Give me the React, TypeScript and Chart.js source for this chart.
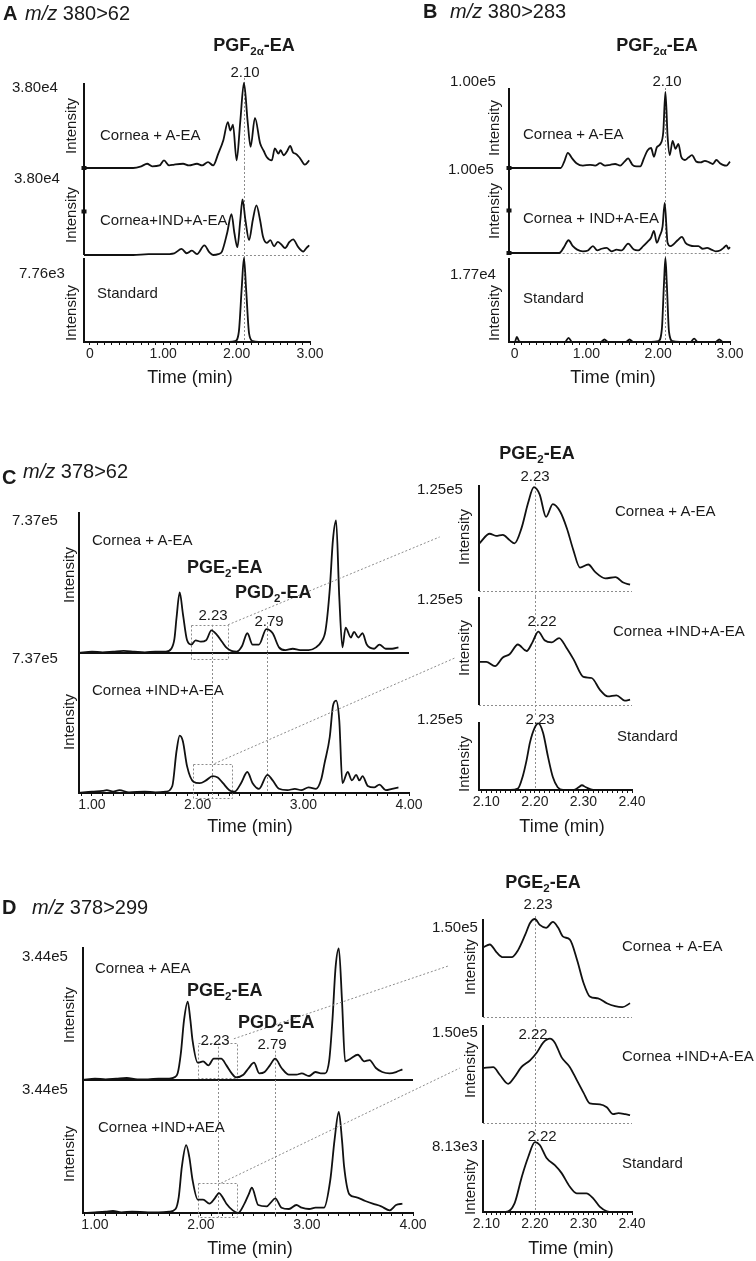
import React, { useEffect, useRef } from "react";
import { Chart, registerables } from "chart.js";

Chart.register(...registerables);

const FONT = "'Liberation Sans', Arial, Helvetica, sans-serif";

// ---------------- DATA (relative intensity, % of panel maximum) ----------------
// Panel A  m/z 380>62
const A1_TIME = [-0.08, 0, 0.5, 0.59, 0.7, 0.78, 0.85, 0.95, 1.01, 1.08, 1.15, 1.27, 1.35, 1.46, 1.53, 1.61, 1.68, 1.75, 1.82, 1.88, 1.915, 1.95, 2.0, 2.05, 2.10, 2.15, 2.19, 2.25, 2.32, 2.37, 2.41, 2.48, 2.52, 2.57, 2.60, 2.64, 2.69, 2.73, 2.77, 2.80, 2.86, 2.93, 2.99];
const A1_INT = [0, 0, 0, 0, 2, 5, 2, 3, 9, 3, 4, 5, 3, 5, 3, 7, 3, 17, 33, 54, 44, 51, 9, 55, 100, 55, 25, 59, 29, 20, 13, 9, 23, 17, 21, 15, 20, 26, 18, 17, 12, 4, 9];
const A2_TIME = [-0.08, 0, 0.59, 0.8, 1.0, 1.15, 1.25, 1.32, 1.39, 1.46, 1.56, 1.63, 1.68, 1.75, 1.80, 1.87, 1.93, 1.97, 2.01, 2.05, 2.08, 2.12, 2.17, 2.22, 2.27, 2.32, 2.36, 2.41, 2.46, 2.51, 2.56, 2.61, 2.66, 2.72, 2.77, 2.84, 2.91, 2.95, 2.99];
const A2_INT = [0, 0, 0, 1, 1, 2, 7, 2, 5, 1, 11, 3, 0, 1, 4, 25, 47, 25, 9, 40, 64, 40, 17, 40, 57, 40, 21, 14, 17, 10, 15, 12, 8, 15, 18, 9, 4, 8, 11];
const A3_TIME = [-0.08, 0, 1.9, 1.98, 2.03, 2.07, 2.10, 2.13, 2.17, 2.22, 2.3, 3.0];
const A3_INT = [0, 0, 0, 1, 12, 65, 100, 62, 10, 1, 0, 0];

// Panel B  m/z 380>283
const B1_TIME = [-0.08, 0, 0.64, 0.69, 0.74, 0.80, 0.86, 0.95, 1.05, 1.12, 1.19, 1.26, 1.33, 1.40, 1.47, 1.53, 1.58, 1.64, 1.70, 1.75, 1.80, 1.85, 1.90, 1.94, 1.98, 2.03, 2.07, 2.10, 2.13, 2.16, 2.20, 2.24, 2.28, 2.32, 2.37, 2.42, 2.47, 2.53, 2.59, 2.65, 2.71, 2.76, 2.81, 2.86, 2.90, 2.95, 3.0];
const B1_INT = [0, 0, 0, 8, 19, 12, 6, 3, 4, 3, 6, 3, 4, 5, 3, 8, 12, 4, 2, 2, 12, 22, 25, 14, 26, 30, 45, 95, 40, 16, 34, 24, 30, 14, 10, 13, 16, 8, 7, 9, 7, 5, 10, 6, 4, 3, 8];
const B2_TIME = [-0.08, 0, 0.62, 0.68, 0.75, 0.81, 0.87, 0.95, 1.02, 1.09, 1.15, 1.21, 1.28, 1.35, 1.42, 1.49, 1.58, 1.66, 1.72, 1.79, 1.85, 1.90, 1.94, 1.98, 2.02, 2.06, 2.09, 2.13, 2.17, 2.21, 2.27, 2.33, 2.38, 2.44, 2.50, 2.56, 2.62, 2.68, 2.74, 2.80, 2.86, 2.91, 2.95, 2.98, 3.0];
const B2_INT = [0, 0, 0, 6, 15, 8, 4, 2, 3, 8, 3, 5, 6, 2, 4, 3, 11, 4, 3, 8, 13, 18, 26, 12, 20, 31, 59, 12, 8, 10, 15, 19, 12, 9, 8, 8, 5, 6, 4, 2, 3, 6, 9, 5, 7];
const B3_TIME = [-0.08, 0, 0.03, 0.06, 0.1, 0.7, 0.75, 0.8, 1.2, 1.25, 1.3, 1.55, 1.6, 1.65, 1.9, 2.0, 2.05, 2.08, 2.10, 2.12, 2.15, 2.2, 2.3, 2.45, 2.5, 2.55, 2.8, 2.85, 2.9, 3.0];
const B3_INT = [0, 0, 6, 1, 0, 0, 5, 0, 0, 3, 0, 0, 3, 0, 0, 1, 15, 70, 100, 68, 12, 1, 0, 0, 4, 0, 0, 3, 0, 0];

// Panel C  m/z 378>62 (full run)
const C1_TIME = [0.877, 1.0, 1.1, 1.2, 1.3, 1.4, 1.5, 1.6, 1.7, 1.75, 1.78, 1.80, 1.83, 1.86, 1.90, 1.94, 1.98, 2.03, 2.08, 2.13, 2.18, 2.23, 2.27, 2.32, 2.37, 2.42, 2.47, 2.52, 2.58, 2.65, 2.71, 2.77, 2.83, 2.90, 2.97, 3.05, 3.12, 3.17, 3.21, 3.25, 3.28, 3.31, 3.34, 3.37, 3.40, 3.45, 3.48, 3.52, 3.56, 3.60, 3.67, 3.72, 3.78, 3.84, 3.90];
const C1_INT = [0, 1, 0.5, 1, 1.5, 1, 0.5, 1, 1, 3, 10, 25, 43, 28, 9, 6, 9, 8, 9, 16, 13, 8, 4, 1.5, 1, 5, 14, 6, 6, 17, 14, 4, 2, 3, 2, 2, 4, 8, 16, 45, 80, 94, 40, 4, 18, 11, 15, 11, 14, 6, 3, 6, 3, 3, 4];
const C2_TIME = [0.877, 1.0, 1.1, 1.14, 1.2, 1.26, 1.35, 1.5, 1.6, 1.7, 1.76, 1.80, 1.83, 1.86, 1.90, 1.96, 2.02, 2.08, 2.14, 2.19, 2.24, 2.30, 2.35, 2.41, 2.47, 2.52, 2.58, 2.66, 2.71, 2.77, 2.85, 2.92, 2.98, 3.05, 3.12, 3.17, 3.20, 3.25, 3.28, 3.31, 3.34, 3.37, 3.42, 3.46, 3.50, 3.53, 3.56, 3.61, 3.67, 3.72, 3.78, 3.84, 3.90];
const C2_INT = [0, 1, 1.5, 2, 1, 2, 0.5, 1, 0.5, 1, 5, 30, 41, 37, 19, 8, 7, 9, 12, 11, 7, 2, 1, 7, 15, 7, 3, 13, 9, 3, 2, 3, 2, 4, 3, 10, 21, 40, 62, 66, 52, 7, 15, 9, 13, 9, 12, 5, 4, 6, 2, 3, 4];
// Panel C zoom (PGE2-EA)
const CZ1_TIME = [2.086, 2.107, 2.12, 2.134, 2.148, 2.158, 2.173, 2.186, 2.198, 2.21, 2.223, 2.237, 2.252, 2.266, 2.279, 2.293, 2.31, 2.324, 2.345, 2.366, 2.382, 2.396];
const CZ1_INT = [45, 54, 52, 53, 48, 45, 60, 83, 98, 91, 70, 82, 75, 59, 39, 22, 25, 18, 12, 13, 8, 6];
const CZ2_TIME = [2.086, 2.10, 2.118, 2.134, 2.148, 2.165, 2.183, 2.195, 2.207, 2.22, 2.235, 2.25, 2.265, 2.28, 2.30, 2.317, 2.334, 2.35, 2.368, 2.385, 2.396];
const CZ2_INT = [40, 40, 36, 44, 47, 56, 50, 58, 68, 60, 58, 62, 53, 42, 26, 25, 14, 8, 9, 4, 5];
const CZ3_TIME = [2.086, 2.15, 2.165, 2.175, 2.183, 2.19, 2.2, 2.207, 2.217, 2.227, 2.237, 2.247, 2.258, 2.28, 2.29, 2.297, 2.305, 2.32, 2.396];
const CZ3_INT = [0, 0, 2, 20, 44, 70, 92, 98, 84, 49, 19, 4, 0, 0, 4, 7, 4, 0, 0];

// Panel D  m/z 378>299 (full run)
const D1_TIME = [0.887, 1.0, 1.1, 1.2, 1.3, 1.4, 1.5, 1.6, 1.7, 1.75, 1.78, 1.81, 1.84, 1.875, 1.90, 1.92, 1.97, 2.02, 2.07, 2.12, 2.19, 2.24, 2.29, 2.33, 2.40, 2.45, 2.50, 2.55, 2.60, 2.65, 2.70, 2.76, 2.83, 2.90, 2.95, 3.02, 3.08, 3.13, 3.17, 3.21, 3.24, 3.27, 3.30, 3.33, 3.36, 3.41, 3.48, 3.54, 3.59, 3.65, 3.71, 3.78, 3.84, 3.90];
const D1_INT = [0, 1, 0.5, 1, 1.5, 0.5, 0.5, 1, 1, 2, 5, 20, 45, 59, 45, 30, 13, 14, 11, 16, 16, 11, 5, 2, 4, 9, 13, 5, 6, 11, 16, 9, 4, 4, 5, 3, 6, 5, 5, 15, 45, 85, 99, 60, 14, 16, 19, 14, 15, 9, 6, 5, 6, 8];
const D2_TIME = [0.887, 1.0, 1.1, 1.17, 1.25, 1.35, 1.5, 1.6, 1.7, 1.76, 1.79, 1.82, 1.86, 1.89, 1.92, 1.97, 2.02, 2.08, 2.13, 2.17, 2.21, 2.24, 2.30, 2.35, 2.41, 2.45, 2.48, 2.54, 2.62, 2.66, 2.70, 2.76, 2.83, 2.90, 2.95, 3.02, 3.08, 3.16, 3.22, 3.26, 3.30, 3.33, 3.35, 3.40, 3.46, 3.55, 3.62, 3.70, 3.78, 3.84, 3.90];
const D2_INT = [0, 0.5, 1, 1.5, 0.5, 1, 0.5, 0.5, 1, 3, 12, 35, 51, 42, 25, 10, 10, 7, 11, 15, 11, 7, 2, 0, 7, 14, 19, 6, 5, 8, 11, 4, 3, 6, 4, 3, 4, 4, 25, 55, 76, 55, 35, 14, 12, 9, 7, 5, 2, 6, 7];
// Panel D zoom (PGE2-EA)
const DZ1_TIME = [2.093, 2.107, 2.121, 2.134, 2.152, 2.165, 2.18, 2.19, 2.20, 2.21, 2.223, 2.237, 2.248, 2.258, 2.272, 2.287, 2.30, 2.313, 2.33, 2.348, 2.365, 2.38, 2.396];
const DZ1_INT = [71, 74, 66, 61, 61, 68, 84, 96, 100, 94, 91, 97, 91, 82, 79, 58, 35, 21, 19, 14, 11, 10, 14];
const DZ2_TIME = [2.093, 2.114, 2.128, 2.145, 2.158, 2.172, 2.19, 2.204, 2.217, 2.231, 2.241, 2.255, 2.272, 2.286, 2.30, 2.313, 2.334, 2.348, 2.361, 2.372, 2.386, 2.396];
const DZ2_INT = [56, 57, 49, 40, 47, 57, 64, 72, 82, 86, 82, 67, 57, 44, 31, 20, 19, 16, 9, 10, 9, 8];
const DZ3_TIME = [2.093, 2.14, 2.158, 2.173, 2.186, 2.20, 2.21, 2.224, 2.241, 2.255, 2.272, 2.286, 2.306, 2.32, 2.334, 2.348, 2.36, 2.396];
const DZ3_INT = [0, 0, 12, 49, 76, 97, 93, 75, 65, 54, 35, 26, 26, 19, 7, 1, 0, 0];

// Tick labels
const AB_TICK_VALUES = [0, 1, 2, 3];
const AB_TICK_LABELS = ["0", "1.00", "2.00", "3.00"];
const FULL_TICK_VALUES = [1, 2, 3, 4];
const FULL_TICK_LABELS = ["1.00", "2.00", "3.00", "4.00"];
const ZOOM_TICK_VALUES = [2.1, 2.2, 2.3, 2.4];
const ZOOM_TICK_LABELS = ["2.10", "2.20", "2.30", "2.40"];

// ---------------- LAYOUT ----------------
type AxisSpec = { step: number; major: number[]; labels: string[] };
type VLine = { x: number; from: number; to: number };
type Box = { x1: number; x2: number; y1: number; y2: number };
type Trace = {
  key: string;
  t: number[];
  v: number[];
  L: number; T: number; R: number; B: number;
  xmin: number; xmax: number;
  axis?: AxisSpec;
  vlines?: VLine[];
  boxes?: Box[];
  dotBase?: [number, number];
  solidBase?: boolean;
  yMarks?: number[];
};

const AB_AXIS: AxisSpec = { step: 0.1, major: AB_TICK_VALUES, labels: AB_TICK_LABELS };
const FULL_AXIS: AxisSpec = { step: 0.1, major: FULL_TICK_VALUES, labels: FULL_TICK_LABELS };
const ZOOM_AXIS: AxisSpec = { step: 0.01, major: ZOOM_TICK_VALUES, labels: ZOOM_TICK_LABELS };

const TRACES: Trace[] = [
  // A
  { key: "A1", t: A1_TIME, v: A1_INT, L: 84, T: 83, R: 310, B: 168, xmin: -0.08, xmax: 3.0, vlines: [{ x: 2.1, from: 106, to: 0 }], yMarks: [0] },
  { key: "A2", t: A2_TIME, v: A2_INT, L: 84, T: 168, R: 310, B: 255, xmin: -0.08, xmax: 3.0, vlines: [{ x: 2.1, from: 100, to: -4 }], dotBase: [1.8, 3.0], yMarks: [50] },
  { key: "A3", t: A3_TIME, v: A3_INT, L: 84, T: 258, R: 310, B: 342, xmin: -0.08, xmax: 3.0, vlines: [{ x: 2.1, from: 100, to: 0 }], axis: AB_AXIS },
  // B
  { key: "B1", t: B1_TIME, v: B1_INT, L: 509, T: 88, R: 730, B: 168, xmin: -0.08, xmax: 3.0, vlines: [{ x: 2.1, from: 100, to: 0 }], yMarks: [0] },
  { key: "B2", t: B2_TIME, v: B2_INT, L: 509, T: 168, R: 730, B: 253, xmin: -0.08, xmax: 3.0, vlines: [{ x: 2.1, from: 100, to: -6 }], dotBase: [0.39, 3.0], yMarks: [50, 0] },
  { key: "B3", t: B3_TIME, v: B3_INT, L: 509, T: 258, R: 730, B: 342, xmin: -0.08, xmax: 3.0, vlines: [{ x: 2.1, from: 100, to: 0 }], axis: AB_AXIS },
  // C full
  { key: "C1", t: C1_TIME, v: C1_INT, L: 79, T: 512, R: 409, B: 653, xmin: 0.877, xmax: 4.0, solidBase: true,
    vlines: [{ x: 2.14, from: 20, to: 0 }, { x: 2.66, from: 22, to: 0 }], boxes: [{ x1: 1.937, x2: 2.287, y1: -4, y2: 20 }] },
  { key: "C2", t: C2_TIME, v: C2_INT, L: 79, T: 653, R: 409, B: 793, xmin: 0.877, xmax: 4.0, axis: FULL_AXIS,
    vlines: [{ x: 2.14, from: 100, to: -3.6 }, { x: 2.66, from: 100, to: 0 }], boxes: [{ x1: 1.955, x2: 2.325, y1: -3.6, y2: 21 }] },
  // C zoom
  { key: "CZ1", t: CZ1_TIME, v: CZ1_INT, L: 479, T: 485, R: 632, B: 591, xmin: 2.085, xmax: 2.4, dotBase: [2.085, 2.4], vlines: [{ x: 2.2, from: 102, to: -6 }] },
  { key: "CZ2", t: CZ2_TIME, v: CZ2_INT, L: 479, T: 597, R: 632, B: 705, xmin: 2.085, xmax: 2.4, dotBase: [2.085, 2.4], vlines: [{ x: 2.2, from: 100, to: -16 }] },
  { key: "CZ3", t: CZ3_TIME, v: CZ3_INT, L: 479, T: 722, R: 632, B: 790, xmin: 2.085, xmax: 2.4, axis: ZOOM_AXIS, vlines: [{ x: 2.2, from: 100, to: 0 }] },
  // D full
  { key: "D1", t: D1_TIME, v: D1_INT, L: 83, T: 947, R: 413, B: 1080, xmin: 0.887, xmax: 4.0, solidBase: true,
    vlines: [{ x: 2.16, from: 28, to: 0 }, { x: 2.695, from: 22, to: 0 }], boxes: [{ x1: 1.972, x2: 2.34, y1: 1.5, y2: 28 }] },
  { key: "D2", t: D2_TIME, v: D2_INT, L: 83, T: 1080, R: 413, B: 1213, xmin: 0.887, xmax: 4.0, axis: FULL_AXIS,
    vlines: [{ x: 2.16, from: 100, to: -3 }, { x: 2.695, from: 100, to: -3 }], boxes: [{ x1: 1.972, x2: 2.34, y1: -3, y2: 22.5 }] },
  // D zoom
  { key: "DZ1", t: DZ1_TIME, v: DZ1_INT, L: 483, T: 919, R: 632, B: 1017, xmin: 2.093, xmax: 2.4, dotBase: [2.093, 2.4], vlines: [{ x: 2.2, from: 103, to: -8 }] },
  { key: "DZ2", t: DZ2_TIME, v: DZ2_INT, L: 483, T: 1025, R: 632, B: 1123, xmin: 2.093, xmax: 2.4, dotBase: [2.093, 2.4], vlines: [{ x: 2.2, from: 100, to: -17 }] },
  { key: "DZ3", t: DZ3_TIME, v: DZ3_INT, L: 483, T: 1140, R: 632, B: 1212, xmin: 2.093, xmax: 2.4, axis: ZOOM_AXIS, vlines: [{ x: 2.2, from: 100, to: 0 }] },
];

const CONNECTORS = [
  { from: "C1", fx: 2.287, fy: 20, to: "CZ1", tx: 2.004, ty: 51 },
  { from: "C2", fx: 2.16, fy: 21, to: "CZ2", tx: 2.035, ty: 43.5 },
  { from: "D1", fx: 2.31, fy: 31, to: "DZ1", tx: 2.021, ty: 52 },
  { from: "D2", fx: 2.19, fy: 22.5, to: "DZ2", tx: 2.045, ty: 56 },
];

const PADX = 34;
const PADY = 12;
const AX_H = 20;
const DOT = "#8c8c8c";

function decorPlugin(tr: Trace) {
  return {
    id: "decor_" + tr.key,
    beforeDatasetsDraw(chart: any) {
      const { ctx, scales } = chart;
      const x = scales.x;
      const y = scales.y;
      ctx.save();
      ctx.strokeStyle = DOT;
      ctx.lineWidth = 1;
      ctx.setLineDash([2, 2]);
      for (const vl of tr.vlines || []) {
        const px = Math.round(x.getPixelForValue(vl.x)) + 0.5;
        ctx.beginPath();
        ctx.moveTo(px, y.getPixelForValue(vl.from));
        ctx.lineTo(px, y.getPixelForValue(vl.to));
        ctx.stroke();
      }
      for (const b of tr.boxes || []) {
        const x1 = Math.round(x.getPixelForValue(b.x1)) + 0.5;
        const x2 = Math.round(x.getPixelForValue(b.x2)) + 0.5;
        const y1 = Math.round(y.getPixelForValue(b.y1)) + 0.5;
        const y2 = Math.round(y.getPixelForValue(b.y2)) + 0.5;
        ctx.strokeRect(x1, y2, x2 - x1, y1 - y2);
      }
      if (tr.dotBase) {
        const py = Math.round(y.getPixelForValue(0)) + 0.5;
        ctx.beginPath();
        ctx.moveTo(x.getPixelForValue(tr.dotBase[0]), py);
        ctx.lineTo(x.getPixelForValue(tr.dotBase[1]), py);
        ctx.stroke();
      }
      ctx.restore();
    },
    afterDatasetsDraw(chart: any) {
      const { ctx, chartArea: a, scales } = chart;
      ctx.save();
      ctx.strokeStyle = "#111";
      ctx.lineWidth = 2;
      ctx.beginPath();
      ctx.moveTo(a.left, a.top);
      ctx.lineTo(a.left, a.bottom);
      ctx.stroke();
      if (tr.solidBase) {
        ctx.beginPath();
        ctx.moveTo(a.left, a.bottom);
        ctx.lineTo(a.right, a.bottom);
        ctx.stroke();
      }
      ctx.fillStyle = "#111";
      for (const m of tr.yMarks || []) {
        const py = scales.y.getPixelForValue(m);
        ctx.fillRect(a.left - 2.5, py - 2, 5, 4);
      }
      ctx.restore();
    },
  };
}

function buildConfig(tr: Trace): any {
  const ax = tr.axis;
  const xScale: any = ax
    ? {
        type: "linear",
        min: tr.xmin,
        max: tr.xmax,
        position: "bottom",
        border: { display: true, color: "#111", width: 2 },
        grid: { display: true, drawOnChartArea: false, drawTicks: true, tickLength: 3, color: "#111", lineWidth: 1 },
        ticks: {
          stepSize: ax.step,
          includeBounds: false,
          autoSkip: false,
          maxRotation: 0,
          minRotation: 0,
          padding: 1,
          color: "#222",
          font: { family: FONT, size: 14 },
          callback: (val: number) => {
            const i = ax.major.findIndex((m) => Math.abs(m - val) < ax.step / 3);
            return i >= 0 ? ax.labels[i] : "";
          },
        },
        title: { display: false },
        afterFit: (s: any) => {
          s.height = AX_H;
          s.paddingLeft = 0;
          s.paddingRight = 0;
        },
      }
    : { type: "linear", display: false, min: tr.xmin, max: tr.xmax };
  return {
    type: "line",
    data: {
      datasets: [
        {
          data: tr.t.map((x, i) => ({ x, y: tr.v[i] })),
          borderColor: "#111",
          borderWidth: 1.8,
          pointRadius: 0,
          fill: false,
          tension: 0.4,
          cubicInterpolationMode: "monotone",
          clip: false,
        },
      ],
    },
    options: {
      animation: false,
      responsive: false,
      maintainAspectRatio: false,
      events: [],
      layout: { padding: { left: PADX, right: PADX, top: PADY, bottom: ax ? 0 : PADY } },
      plugins: { legend: { display: false }, tooltip: { enabled: false }, title: { display: false } },
      scales: {
        x: xScale,
        y: { type: "linear", display: false, min: 0, max: 100 },
      },
    },
    plugins: [decorPlugin(tr)],
  };
}

// ---------------- TEXT ----------------
const Sub = ({ children }: { children: React.ReactNode }) => (
  <span style={{ fontSize: "0.64em", position: "relative", top: "0.32em" }}>{children}</span>
);
const PGF = (
  <>
    PGF<Sub>2α</Sub>-EA
  </>
);
const PGE = (
  <>
    PGE<Sub>2</Sub>-EA
  </>
);
const PGD = (
  <>
    PGD<Sub>2</Sub>-EA
  </>
);
const MZ = (s: string) => (
  <>
    <i>m/z</i> {s}
  </>
);

type Lbl = { c: React.ReactNode; x: number; y: number; s: number; b?: boolean; a?: "l" | "c"; r?: boolean };

const LABELS: Lbl[] = [
  // A
  { c: "A", x: 3, y: 13, s: 20, b: true },
  { c: MZ("380>62"), x: 25, y: 13, s: 20 },
  { c: PGF, x: 254, y: 45, s: 18, b: true, a: "c" },
  { c: "2.10", x: 245, y: 71, s: 15, a: "c" },
  { c: "3.80e4", x: 12, y: 86, s: 15 },
  { c: "3.80e4", x: 14, y: 177, s: 15 },
  { c: "7.76e3", x: 19, y: 272, s: 15 },
  { c: "Intensity", x: 70, y: 126, s: 15, a: "c", r: true },
  { c: "Intensity", x: 70, y: 215, s: 15, a: "c", r: true },
  { c: "Intensity", x: 70, y: 313, s: 15, a: "c", r: true },
  { c: "Cornea + A-EA", x: 100, y: 134, s: 15 },
  { c: "Cornea+IND+A-EA", x: 100, y: 219, s: 15 },
  { c: "Standard", x: 97, y: 292, s: 15 },
  { c: "Time (min)", x: 190, y: 377, s: 18, a: "c" },
  // B
  { c: "B", x: 423, y: 11, s: 20, b: true },
  { c: MZ("380>283"), x: 450, y: 11, s: 20 },
  { c: PGF, x: 657, y: 45, s: 18, b: true, a: "c" },
  { c: "2.10", x: 667, y: 80, s: 15, a: "c" },
  { c: "1.00e5", x: 450, y: 80, s: 15 },
  { c: "1.00e5", x: 448, y: 168, s: 15 },
  { c: "1.77e4", x: 450, y: 273, s: 15 },
  { c: "Intensity", x: 493, y: 128, s: 15, a: "c", r: true },
  { c: "Intensity", x: 493, y: 211, s: 15, a: "c", r: true },
  { c: "Intensity", x: 493, y: 313, s: 15, a: "c", r: true },
  { c: "Cornea + A-EA", x: 523, y: 133, s: 15 },
  { c: "Cornea + IND+A-EA", x: 523, y: 217, s: 15 },
  { c: "Standard", x: 523, y: 297, s: 15 },
  { c: "Time (min)", x: 613, y: 377, s: 18, a: "c" },
  // C
  { c: "C", x: 2, y: 477, s: 20, b: true },
  { c: MZ("378>62"), x: 23, y: 471, s: 20 },
  { c: "7.37e5", x: 12, y: 519, s: 15 },
  { c: "7.37e5", x: 12, y: 657, s: 15 },
  { c: "Intensity", x: 68, y: 575, s: 15, a: "c", r: true },
  { c: "Intensity", x: 68, y: 722, s: 15, a: "c", r: true },
  { c: "Cornea + A-EA", x: 92, y: 539, s: 15 },
  { c: PGE, x: 187, y: 567, s: 18, b: true },
  { c: PGD, x: 235, y: 592, s: 18, b: true },
  { c: "2.23", x: 213, y: 614, s: 15, a: "c" },
  { c: "2.79", x: 269, y: 620, s: 15, a: "c" },
  { c: "Cornea +IND+A-EA", x: 92, y: 689, s: 15 },
  { c: "Time (min)", x: 250, y: 826, s: 18, a: "c" },
  { c: PGE, x: 537, y: 453, s: 18, b: true, a: "c" },
  { c: "2.23", x: 535, y: 475, s: 15, a: "c" },
  { c: "1.25e5", x: 417, y: 488, s: 15 },
  { c: "1.25e5", x: 417, y: 598, s: 15 },
  { c: "1.25e5", x: 417, y: 718, s: 15 },
  { c: "Intensity", x: 463, y: 537, s: 15, a: "c", r: true },
  { c: "Intensity", x: 463, y: 648, s: 15, a: "c", r: true },
  { c: "Intensity", x: 463, y: 764, s: 15, a: "c", r: true },
  { c: "Cornea + A-EA", x: 615, y: 510, s: 15 },
  { c: "Cornea +IND+A-EA", x: 613, y: 630, s: 15 },
  { c: "Standard", x: 617, y: 735, s: 15 },
  { c: "2.22", x: 542, y: 620, s: 15, a: "c" },
  { c: "2.23", x: 540, y: 718, s: 15, a: "c" },
  { c: "Time (min)", x: 562, y: 826, s: 18, a: "c" },
  // D
  { c: "D", x: 2, y: 907, s: 20, b: true },
  { c: MZ("378>299"), x: 32, y: 907, s: 20 },
  { c: "3.44e5", x: 22, y: 955, s: 15 },
  { c: "3.44e5", x: 22, y: 1088, s: 15 },
  { c: "Intensity", x: 68, y: 1015, s: 15, a: "c", r: true },
  { c: "Intensity", x: 68, y: 1154, s: 15, a: "c", r: true },
  { c: "Cornea + AEA", x: 95, y: 967, s: 15 },
  { c: PGE, x: 187, y: 990, s: 18, b: true },
  { c: PGD, x: 238, y: 1022, s: 18, b: true },
  { c: "2.23", x: 215, y: 1039, s: 15, a: "c" },
  { c: "2.79", x: 272, y: 1043, s: 15, a: "c" },
  { c: "Cornea +IND+AEA", x: 98, y: 1126, s: 15 },
  { c: "Time (min)", x: 250, y: 1248, s: 18, a: "c" },
  { c: PGE, x: 543, y: 882, s: 18, b: true, a: "c" },
  { c: "2.23", x: 538, y: 903, s: 15, a: "c" },
  { c: "1.50e5", x: 432, y: 926, s: 15 },
  { c: "1.50e5", x: 432, y: 1031, s: 15 },
  { c: "8.13e3", x: 432, y: 1145, s: 15 },
  { c: "Intensity", x: 469, y: 967, s: 15, a: "c", r: true },
  { c: "Intensity", x: 469, y: 1070, s: 15, a: "c", r: true },
  { c: "Intensity", x: 469, y: 1187, s: 15, a: "c", r: true },
  { c: "Cornea + A-EA", x: 622, y: 945, s: 15 },
  { c: "Cornea +IND+A-EA", x: 622, y: 1055, s: 15 },
  { c: "Standard", x: 622, y: 1162, s: 15 },
  { c: "2.22", x: 533, y: 1033, s: 15, a: "c" },
  { c: "2.22", x: 542, y: 1135, s: 15, a: "c" },
  { c: "Time (min)", x: 571, y: 1248, s: 18, a: "c" },
];

export default function App() {
  const canvasRefs = useRef<(HTMLCanvasElement | null)[]>([]);
  const overlayRef = useRef<HTMLCanvasElement | null>(null);

  useEffect(() => {
    const charts: Record<string, Chart> = {};
    TRACES.forEach((tr, i) => {
      const c = canvasRefs.current[i];
      if (c) charts[tr.key] = new Chart(c, buildConfig(tr));
    });
    const ov = overlayRef.current;
    if (ov) {
      const ctx = ov.getContext("2d");
      if (ctx) {
        ctx.clearRect(0, 0, ov.width, ov.height);
        ctx.save();
        ctx.strokeStyle = DOT;
        ctx.lineWidth = 1;
        ctx.setLineDash([2, 2]);
        for (const cn of CONNECTORS) {
          const a: any = charts[cn.from];
          const b: any = charts[cn.to];
          if (!a || !b) continue;
          const x1 = a.canvas.offsetLeft + a.scales.x.getPixelForValue(cn.fx);
          const y1 = a.canvas.offsetTop + a.scales.y.getPixelForValue(cn.fy);
          const x2 = b.canvas.offsetLeft + b.scales.x.getPixelForValue(cn.tx);
          const y2 = b.canvas.offsetTop + b.scales.y.getPixelForValue(cn.ty);
          ctx.beginPath();
          ctx.moveTo(x1, y1);
          ctx.lineTo(x2, y2);
          ctx.stroke();
        }
        ctx.restore();
      }
    }
    return () => {
      Object.values(charts).forEach((c) => c.destroy());
    };
  }, []);

  return (
    <div
      style={{
        position: "absolute",
        left: 0,
        top: 0,
        width: 756,
        height: 1261,
        background: "#fff",
        overflow: "hidden",
        fontFamily: FONT,
      }}
    >
      {TRACES.map((tr, i) => {
        const w = tr.R - tr.L + 2 * PADX;
        const h = PADY + (tr.B - tr.T) + (tr.axis ? AX_H : PADY);
        return (
          <canvas
            key={tr.key}
            ref={(el) => {
              canvasRefs.current[i] = el;
            }}
            width={w}
            height={h}
            style={{ position: "absolute", left: tr.L - PADX, top: tr.T - PADY, width: w, height: h }}
          />
        );
      })}
      <canvas
        ref={overlayRef}
        width={756}
        height={1261}
        style={{ position: "absolute", left: 0, top: 0, width: 756, height: 1261, pointerEvents: "none" }}
      />
      {LABELS.map((l, i) => (
        <div
          key={i}
          style={{
            position: "absolute",
            left: l.x,
            top: l.y,
            transform: l.r
              ? "translate(-50%,-50%) rotate(-90deg)"
              : l.a === "c"
              ? "translate(-50%,-50%)"
              : "translate(0,-50%)",
            fontSize: l.s,
            fontWeight: l.b ? 700 : 400,
            lineHeight: 1,
            whiteSpace: "nowrap",
            color: "#1a1a1a",
          }}
        >
          {l.c}
        </div>
      ))}
    </div>
  );
}
